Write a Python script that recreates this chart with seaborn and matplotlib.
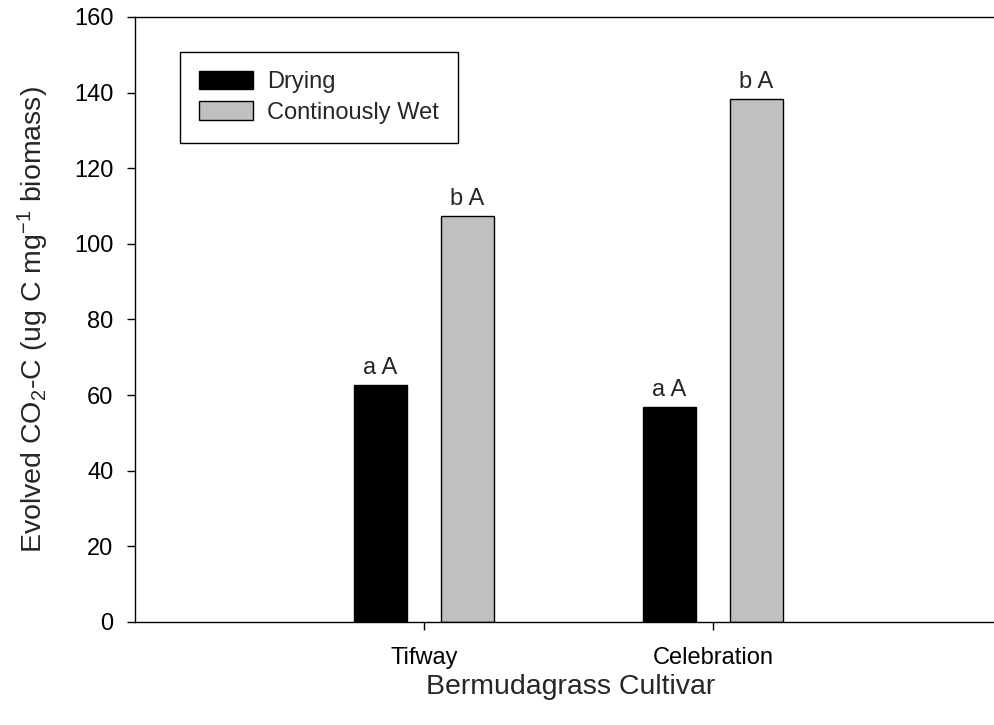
import pandas as pd
import matplotlib
matplotlib.use("Agg")
import matplotlib.pyplot as plt
import seaborn as sns

# данные
cultivars = ["Tifway", "Celebration"]
treatments = ["Drying", "Continously Wet"]
drying = [62.8, 56.9]
wet = [107.4, 138.4]
letters_drying = ["a A", "a A"]
letters_wet = ["b A", "b A"]

df = pd.DataFrame({
    "Cultivar": cultivars * 2,
    "Treatment": [treatments[0]] * 2 + [treatments[1]] * 2,
    "CO2": drying + wet,
})

sns.set_style("ticks")
plt.rcParams["font.family"] = ["Liberation Sans", "DejaVu Sans"]
plt.rcParams["mathtext.fontset"] = "custom"
plt.rcParams["mathtext.rm"] = "Liberation Sans"
plt.rcParams["mathtext.default"] = "regular"

fig = plt.figure(figsize=(9.95, 7.25), dpi=100)
ax = fig.add_axes([0.1357, 0.1421, 0.8643, 0.8345])

sns.barplot(data=df, x="Cultivar", y="CO2", hue="Treatment", order=cultivars,
            hue_order=treatments, palette=["black", "#c0c0c0"], width=0.602,
            gap=0.39, edgecolor="black", linewidth=1.0, errorbar=None,
            saturation=1, ax=ax)

for cont, labs in zip(ax.containers, [letters_drying, letters_wet]):
    ax.bar_label(cont, labels=labs, padding=4, fontsize=17)

ax.set_xlim(-1.0, 1.976)
ax.set_ylim(0, 160)
ax.set_yticks(range(0, 161, 20))
ax.tick_params(axis="both", direction="out", length=5.5, width=1, labelsize=17,
               pad=10, color="black", labelcolor="black")
ax.tick_params(axis="x", pad=12.5)
for side in ["left", "bottom", "top"]:
    ax.spines[side].set_linewidth(1.0)
    ax.spines[side].set_color("black")
ax.spines["right"].set_visible(False)

ax.set_xlabel("Bermudagrass Cultivar", fontsize=20.5)
ax.set_ylabel("Evolved CO$_2$-C (ug C mg$^{-1}$ biomass)", fontsize=20.5)
ax.xaxis.set_label_coords(0.506, -0.086)
ax.yaxis.set_label_coords(-0.098, 0.5)

leg = ax.legend(loc="upper left", bbox_to_anchor=(0.0523, 0.942), fontsize=17,
                frameon=True, fancybox=False, edgecolor="black", framealpha=1,
                handlelength=2.3, handleheight=0.8, borderpad=0.8,
                labelspacing=0.35, handletextpad=0.6, borderaxespad=0)
leg.get_frame().set_linewidth(1.0)

fig.savefig("out.png", dpi=100)
